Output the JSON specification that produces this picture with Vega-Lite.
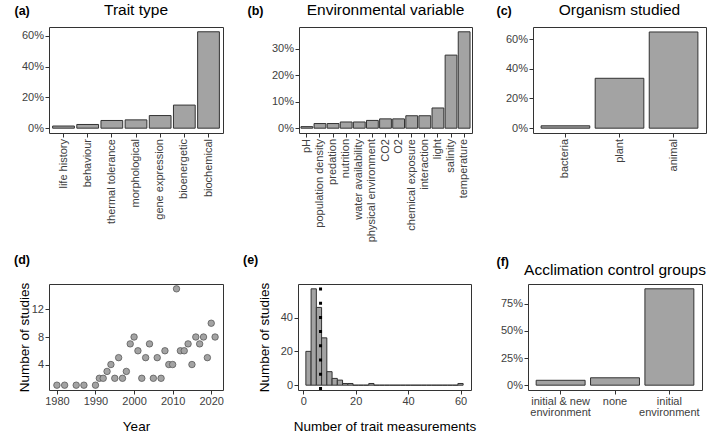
{
  "$schema": "https://vega.github.io/schema/vega-lite/v6.json",
  "padding": {"left": 13, "top": 2, "right": 0, "bottom": 0},
  "spacing": 10,
  "config": {
    "font": "Liberation Sans",
    "view": {"stroke": "#333333", "strokeWidth": 1},
    "axis": {"grid": false, "domain": false, "tickColor": "#333333", "tickSize": 4, "tickWidth": 1, "labelFont": "Liberation Sans", "labelFontSize": 11, "labelColor": "#404040", "labelPadding": 1.5, "titleFont": "Liberation Sans", "titleFontSize": 13.5, "titleFontWeight": "normal", "titleColor": "#000000", "labelFlush": false, "labelOverlap": false, "labelBound": false},
    "title": {"font": "Liberation Sans", "fontSize": 15.5, "fontWeight": "normal", "color": "#000000", "anchor": "middle", "frame": "group", "baseline": "alphabetic"}
  },
  "vconcat": [
    {
      "spacing": 22,
      "hconcat": [
        {
          "width": 174, "height": 106,
          "title": {"text": "Trait type", "offset": -14.8},
          "data": {"values": [
            {"trait": "life history", "share": 0.014},
            {"trait": "behaviour", "share": 0.024},
            {"trait": "thermal tolerance", "share": 0.05},
            {"trait": "morphological", "share": 0.054},
            {"trait": "gene expression", "share": 0.082},
            {"trait": "bioenergetic", "share": 0.15},
            {"trait": "biochemical", "share": 0.626}
          ]},
          "mark": {"type": "bar", "fill": "#a3a3a3", "stroke": "#333333", "strokeWidth": 1},
          "encoding": {
            "x": {"field": "trait", "type": "nominal", "sort": null, "scale": {"paddingInner": 0.1, "paddingOuter": 0.15}, "axis": {"title": null, "labelAngle": -90}},
            "y": {"field": "share", "type": "quantitative", "scale": {"domain": [-0.0313, 0.657], "nice": false, "zero": false}, "axis": {"values": [0, 0.2, 0.4, 0.6], "format": ".0%", "title": "(a)", "titleAngle": 0, "titleAlign": "left", "titleBaseline": "alphabetic", "titleX": -35, "titleY": -13, "titleFontWeight": "bold", "titleFontSize": 12.5}},
            "y2": {"datum": 0}
          }
        },
        {
          "width": 173, "height": 106,
          "title": {"text": "Environmental variable", "offset": -14.8},
          "data": {"values": [
            {"variable": "pH", "share": 0.0059},
            {"variable": "population density", "share": 0.0176},
            {"variable": "predation", "share": 0.0176},
            {"variable": "nutrition", "share": 0.0235},
            {"variable": "water availability", "share": 0.0235},
            {"variable": "physical environment", "share": 0.0294},
            {"variable": "CO2", "share": 0.0353},
            {"variable": "O2", "share": 0.0353},
            {"variable": "chemical exposure", "share": 0.0471},
            {"variable": "interaction", "share": 0.0471},
            {"variable": "light", "share": 0.0765},
            {"variable": "salinity", "share": 0.2765},
            {"variable": "temperature", "share": 0.3647}
          ]},
          "mark": {"type": "bar", "fill": "#a3a3a3", "stroke": "#333333", "strokeWidth": 1},
          "encoding": {
            "x": {"field": "variable", "type": "nominal", "sort": null, "scale": {"paddingInner": 0.1, "paddingOuter": 0.15}, "axis": {"title": null, "labelAngle": -90}},
            "y": {"field": "share", "type": "quantitative", "scale": {"domain": [-0.0182, 0.3829], "nice": false, "zero": false}, "axis": {"values": [0, 0.1, 0.2, 0.3], "format": ".0%", "title": "(b)", "titleAngle": 0, "titleAlign": "left", "titleBaseline": "alphabetic", "titleX": -52, "titleY": -13, "titleFontWeight": "bold", "titleFontSize": 12.5}},
            "y2": {"datum": 0}
          }
        },
        {
          "width": 173, "height": 106,
          "title": {"text": "Organism studied", "offset": -14.8},
          "data": {"values": [
            {"organism": "bacteria", "share": 0.016},
            {"organism": "plant", "share": 0.336},
            {"organism": "animal", "share": 0.648}
          ]},
          "mark": {"type": "bar", "fill": "#a3a3a3", "stroke": "#333333", "strokeWidth": 1},
          "encoding": {
            "x": {"field": "organism", "type": "nominal", "sort": null, "scale": {"paddingInner": 0.1, "paddingOuter": 0.15}, "axis": {"title": null, "labelAngle": -90}},
            "y": {"field": "share", "type": "quantitative", "scale": {"domain": [-0.0325, 0.6815], "nice": false, "zero": false}, "axis": {"values": [0, 0.2, 0.4, 0.6], "format": ".0%", "title": "(c)", "titleAngle": 0, "titleAlign": "left", "titleBaseline": "alphabetic", "titleX": -37, "titleY": -13, "titleFontWeight": "bold", "titleFontSize": 12.5}},
            "y2": {"datum": 0}
          }
        }
      ]
    },
    {
      "spacing": 18,
      "hconcat": [
        {
          "width": 174, "height": 106,
          "title": {"text": "(d)", "anchor": "start", "dx": -35, "offset": 16, "fontWeight": "bold", "fontSize": 12.5},
          "data": {"values": [
            {"year": 1980, "studies": 1}, {"year": 1982, "studies": 1}, {"year": 1985, "studies": 1},
            {"year": 1987, "studies": 1}, {"year": 1990, "studies": 1}, {"year": 1991, "studies": 2},
            {"year": 1992, "studies": 2}, {"year": 1993, "studies": 3}, {"year": 1994, "studies": 4},
            {"year": 1995, "studies": 2}, {"year": 1996, "studies": 5}, {"year": 1997, "studies": 2},
            {"year": 1998, "studies": 3}, {"year": 1999, "studies": 7}, {"year": 2000, "studies": 8},
            {"year": 2001, "studies": 6}, {"year": 2002, "studies": 2}, {"year": 2003, "studies": 5},
            {"year": 2004, "studies": 7}, {"year": 2005, "studies": 2}, {"year": 2006, "studies": 5},
            {"year": 2007, "studies": 2}, {"year": 2008, "studies": 6}, {"year": 2009, "studies": 4},
            {"year": 2010, "studies": 4}, {"year": 2011, "studies": 15}, {"year": 2012, "studies": 6},
            {"year": 2013, "studies": 6}, {"year": 2014, "studies": 7}, {"year": 2015, "studies": 4},
            {"year": 2016, "studies": 8}, {"year": 2017, "studies": 7}, {"year": 2018, "studies": 8},
            {"year": 2019, "studies": 5}, {"year": 2020, "studies": 10}, {"year": 2021, "studies": 8}
          ]},
          "mark": {"type": "point", "shape": "circle", "filled": true, "fill": "#a3a3a3", "stroke": "#4d4d4d", "strokeWidth": 0.7, "size": 42, "opacity": 1},
          "encoding": {
            "x": {"field": "year", "type": "quantitative", "scale": {"domain": [1977.95, 2023.05], "nice": false, "zero": false}, "axis": {"values": [1980, 1990, 2000, 2010, 2020], "format": "d", "title": "Year", "titlePadding": 13}},
            "y": {"field": "studies", "type": "quantitative", "scale": {"domain": [0.3, 15.7], "nice": false, "zero": false}, "axis": {"values": [4, 8, 12], "title": "Number of studies", "titlePadding": 0}}
          }
        },
        {
          "width": 173, "height": 106,
          "title": {"text": "(e)", "anchor": "start", "dx": -55, "offset": 16, "fontWeight": "bold", "fontSize": 12.5},
          "layer": [
            {
              "data": {"values": [
                {"bin_start": 1, "bin_end": 3, "count": 20}, {"bin_start": 3, "bin_end": 5, "count": 57},
                {"bin_start": 5, "bin_end": 7, "count": 46}, {"bin_start": 7, "bin_end": 9, "count": 28},
                {"bin_start": 9, "bin_end": 11, "count": 8}, {"bin_start": 11, "bin_end": 13, "count": 4},
                {"bin_start": 13, "bin_end": 15, "count": 3}, {"bin_start": 15, "bin_end": 17, "count": 1},
                {"bin_start": 17, "bin_end": 19, "count": 1}, {"bin_start": 19, "bin_end": 21, "count": 0},
                {"bin_start": 21, "bin_end": 23, "count": 0}, {"bin_start": 23, "bin_end": 25, "count": 0},
                {"bin_start": 25, "bin_end": 27, "count": 1}, {"bin_start": 27, "bin_end": 29, "count": 0},
                {"bin_start": 29, "bin_end": 31, "count": 0}, {"bin_start": 31, "bin_end": 33, "count": 0},
                {"bin_start": 33, "bin_end": 35, "count": 0}, {"bin_start": 35, "bin_end": 37, "count": 0},
                {"bin_start": 37, "bin_end": 39, "count": 0}, {"bin_start": 39, "bin_end": 41, "count": 0},
                {"bin_start": 41, "bin_end": 43, "count": 0}, {"bin_start": 43, "bin_end": 45, "count": 0},
                {"bin_start": 45, "bin_end": 47, "count": 0}, {"bin_start": 47, "bin_end": 49, "count": 0},
                {"bin_start": 49, "bin_end": 51, "count": 0}, {"bin_start": 51, "bin_end": 53, "count": 0},
                {"bin_start": 53, "bin_end": 55, "count": 0}, {"bin_start": 55, "bin_end": 57, "count": 0},
                {"bin_start": 57, "bin_end": 59, "count": 0}, {"bin_start": 59, "bin_end": 61, "count": 1}
              ]},
              "mark": {"type": "bar", "fill": "#a3a3a3", "stroke": "#333333", "strokeWidth": 1},
              "encoding": {
                "x": {"field": "bin_start", "type": "quantitative", "scale": {"domain": [-2, 64], "nice": false, "zero": false}, "axis": {"values": [0, 20, 40, 60], "title": "Number of trait measurements", "titlePadding": 13}},
                "x2": {"field": "bin_end"},
                "y": {"field": "count", "type": "quantitative", "scale": {"domain": [-2.85, 59.85], "nice": false, "zero": false}, "axis": {"values": [0, 20, 40], "title": "Number of studies", "titlePadding": 9}},
                "y2": {"datum": 0}
              }
            },
            {
              "data": {"values": [{"mean_measurements": 6.6}]},
              "mark": {"type": "rule", "color": "#000000", "strokeWidth": 3, "strokeDash": [3, 11.2], "strokeDashOffset": -3.5},
              "encoding": {"x": {"field": "mean_measurements", "type": "quantitative"}}
            }
          ]
        },
        {
          "width": 174, "height": 106,
          "title": {"text": "Acclimation control groups", "offset": -23.5},
          "data": {"values": [
            {"control": "initial & new environment", "share": 0.045},
            {"control": "none", "share": 0.068},
            {"control": "initial environment", "share": 0.887}
          ]},
          "mark": {"type": "bar", "fill": "#a3a3a3", "stroke": "#333333", "strokeWidth": 1},
          "encoding": {
            "x": {"field": "control", "type": "nominal", "sort": null, "scale": {"paddingInner": 0.1, "paddingOuter": 0.15}, "axis": {"title": null, "labelAngle": 0, "labelAlign": "center", "labelBaseline": "top", "labelLineHeight": 11, "labelExpr": "datum.value == 'initial & new environment' ? ['initial & new', 'environment'] : datum.value == 'initial environment' ? ['initial', 'environment'] : datum.label"}},
            "y": {"field": "share", "type": "quantitative", "scale": {"domain": [-0.0443, 0.931], "nice": false, "zero": false}, "axis": {"values": [0, 0.25, 0.5, 0.75], "format": ".0%", "title": "(f)", "titleAngle": 0, "titleAlign": "left", "titleBaseline": "alphabetic", "titleX": -32, "titleY": -19, "titleFontWeight": "bold", "titleFontSize": 12.5}},
            "y2": {"datum": 0}
          }
        }
      ]
    }
  ]
}
